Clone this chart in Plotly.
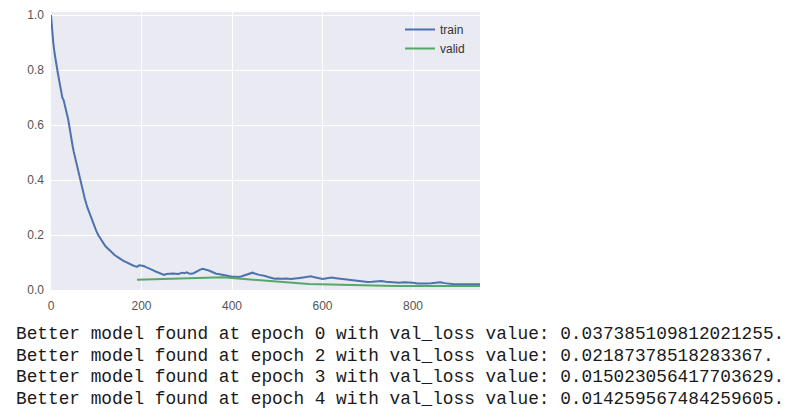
import plotly.graph_objects as go

# ---- data ----
train_iter = [0, 3, 5, 8, 10, 13, 15, 18, 20, 23, 25, 28, 30, 33, 35, 38, 40, 43, 45, 48,
              50, 55, 60, 65, 70, 75, 80, 85, 90, 95, 100, 105, 110, 115, 120, 125, 130, 135,
              140, 145, 150, 155, 160, 165, 170, 175, 180, 185, 190, 195, 200, 205, 210, 215,
              220, 225, 230, 235, 240, 245, 250, 255, 260, 265, 270, 275, 280, 285, 290, 295,
              300, 305, 310, 315, 320, 325, 330, 335, 340, 345, 350, 355, 360, 365, 370, 375,
              380, 385, 390, 395, 400, 405, 410, 415, 420, 425, 430, 435, 440, 445, 450, 455,
              460, 465, 470, 475, 480, 485, 490, 495, 500, 510, 520, 530, 540, 550, 560, 570,
              575, 580, 590, 600, 610, 620, 630, 640, 650, 660, 670, 680, 690, 700, 710, 720,
              730, 740, 750, 760, 770, 780, 790, 800, 810, 820, 830, 840, 850, 860, 870, 880,
              890, 900, 910, 920, 930, 940, 950]
train_loss = [1.000, 0.920, 0.900, 0.860, 0.835, 0.810, 0.790, 0.762, 0.742, 0.720, 0.700,
              0.690, 0.672, 0.655, 0.641, 0.620, 0.597, 0.570, 0.552, 0.522, 0.505, 0.470,
              0.425, 0.390, 0.355, 0.330, 0.302, 0.280, 0.256, 0.235, 0.215, 0.198, 0.185,
              0.172, 0.160, 0.152, 0.143, 0.136, 0.128, 0.122, 0.116, 0.110, 0.106, 0.102,
              0.097, 0.095, 0.090, 0.087, 0.084, 0.090, 0.089, 0.087, 0.083, 0.080, 0.076,
              0.072, 0.068, 0.065, 0.061, 0.057, 0.055, 0.058, 0.059, 0.058, 0.060, 0.059,
              0.058, 0.060, 0.063, 0.061, 0.064, 0.060, 0.059, 0.061, 0.066, 0.070, 0.074,
              0.077, 0.076, 0.073, 0.070, 0.066, 0.062, 0.059, 0.058, 0.056, 0.054, 0.054,
              0.052, 0.050, 0.049, 0.048, 0.046, 0.047, 0.049, 0.052, 0.055, 0.058, 0.062,
              0.063, 0.060, 0.057, 0.055, 0.054, 0.053, 0.050, 0.047, 0.046, 0.043, 0.041,
              0.042, 0.041, 0.042, 0.040, 0.043, 0.044, 0.046, 0.048, 0.050, 0.047, 0.043,
              0.040, 0.043, 0.045, 0.043, 0.041, 0.040, 0.038, 0.037, 0.035, 0.032, 0.029,
              0.030, 0.032, 0.033, 0.030, 0.028, 0.026, 0.026, 0.028, 0.028, 0.026, 0.024,
              0.023, 0.024, 0.025, 0.026, 0.028, 0.025, 0.022, 0.021, 0.021, 0.020, 0.021,
              0.021, 0.020, 0.021]

valid_iter = [190, 380, 570, 760, 950]
valid_loss = [0.0374, 0.046, 0.0219, 0.0150, 0.0143]

x_ticks = [0, 200, 400, 600, 800]
y_ticks = [0.0, 0.2, 0.4, 0.6, 0.8, 1.0]

log_epochs = [0, 2, 3, 4]
log_values = ["0.037385109812021255", "0.02187378518283367",
              "0.015023056417703629", "0.014259567484259605"]

# ---- figure ----
fig = go.Figure()
fig.add_trace(go.Scatter(x=train_iter, y=train_loss, mode="lines", name="train",
                         line=dict(color="#4C72B0", width=2)))
fig.add_trace(go.Scatter(x=valid_iter, y=valid_loss, mode="lines", name="valid",
                         line=dict(color="#55A868", width=2)))

OFF = 8   # page body margin offset
DY = 2    # small downward shift so the top tick label is not clipped
# target plot area on screen: left 51, right 480, top 12, bottom 290
L = 51 - OFF
T = 10 + DY - OFF
R = 800 + OFF - 480
B = 417 + OFF - (288 + DY)
plot_w = 800 - L - R
plot_h = 417 - T - B

def px_to_paper_x(px):
    return (px - OFF - L) / plot_w

def py_to_paper_y(py):
    return (417 - B - (py + DY - OFF)) / plot_h

axis_font = dict(family="Liberation Sans, Arial, sans-serif", size=12, color="#555555")
fig.update_layout(
    width=800, height=417,
    margin=dict(l=L, r=R, t=T, b=B, pad=0),
    paper_bgcolor="white",
    plot_bgcolor="#EAEAF2",
    showlegend=True,
    legend=dict(x=px_to_paper_x(400), xanchor="left", y=py_to_paper_y(13), yanchor="top",
                bgcolor="rgba(0,0,0,0)", font=dict(family="Liberation Sans, Arial, sans-serif",
                                                  size=12, color="#333333"),
                itemwidth=30),
    xaxis=dict(range=[0, 948], tickvals=x_ticks, showgrid=True, gridcolor="white",
               gridwidth=1.2, zeroline=False, showline=False, ticks="",
               tickfont=axis_font, ticklabelstandoff=7, automargin=False,
               ticklabeloverflow="allow"),
    yaxis=dict(range=[0, 278 / 275], tickvals=y_ticks, tickformat=".1f", showgrid=True,
               gridcolor="white", gridwidth=1.2, zeroline=False, showline=False, ticks="",
               tickfont=axis_font, ticklabelstandoff=6, automargin=False,
               ticklabeloverflow="allow"),
)

line_centers = [332, 353.5, 375, 397]
for ep, val, yc in zip(log_epochs, log_values, line_centers):
    txt = f"Better model found at epoch {ep} with val_loss value: {val}."
    fig.add_annotation(text=txt, xref="paper", yref="paper",
                       x=px_to_paper_x(14), y=py_to_paper_y(yc),
                       xanchor="left", yanchor="middle", showarrow=False,
                       font=dict(family="Liberation Mono, Courier New, monospace",
                                 size=17.8, color="#1a1a1a"))

fig.write_html("out.html")
